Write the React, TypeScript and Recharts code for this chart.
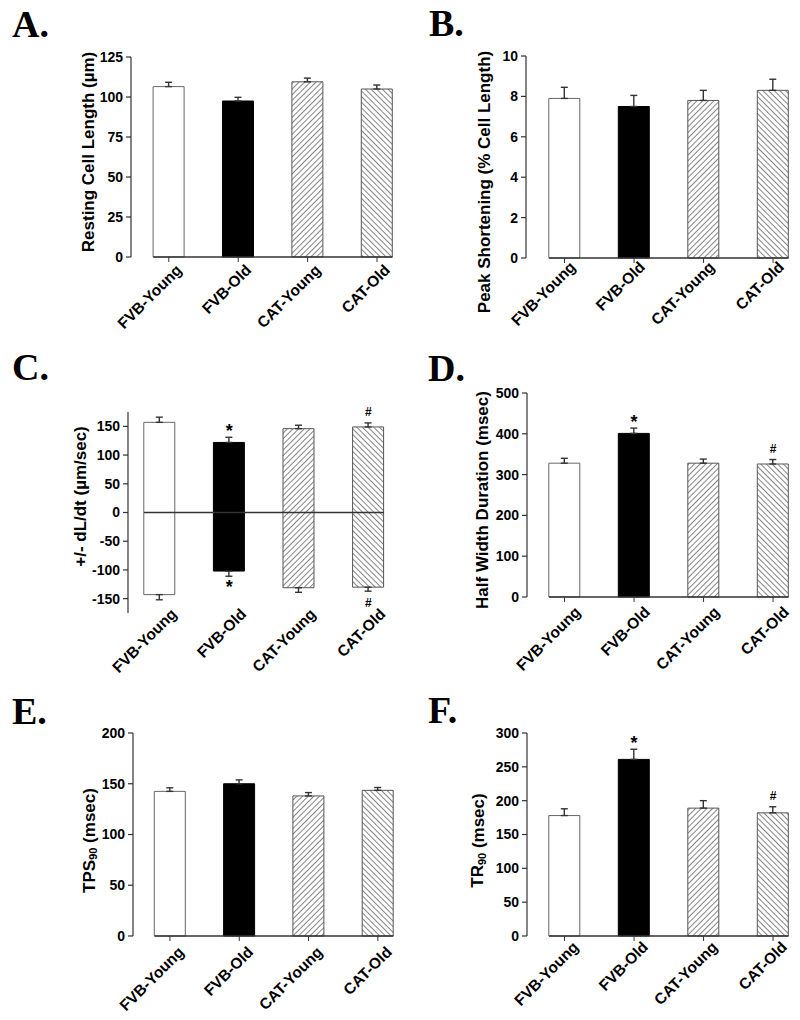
import React from "react";
import {
  BarChart,
  Bar,
  XAxis,
  YAxis,
  ErrorBar,
  Cell,
  ReferenceLine,
  ReferenceDot,
} from "recharts";

const groups = ["FVB-Young", "FVB-Old", "CAT-Young", "CAT-Old"];

// A. resting cell length (µm)
const restingLength = [106.5, 97.5, 109.5, 105];
const restingLengthSem = [2.7, 2.3, 2.3, 2.5];
// B. peak shortening (% cell length)
const peakShortening = [7.9, 7.5, 7.8, 8.3];
const peakShorteningSem = [0.55, 0.55, 0.5, 0.55];
// C. +/- dL/dt (µm/sec)
const maxVelocity = [157, 122, 146, 149];
const maxVelocitySem = [9, 9, 6, 7];
const minVelocity = [-143, -102, -131, -130];
const minVelocitySem = [9, 9, 8, 7];
// D. half width duration (msec)
const halfWidth = [328, 401, 328, 326];
const halfWidthSem = [12, 13, 10, 11];
// E. TPS90 (msec)
const tps90 = [142.5, 150, 138, 143.5];
const tps90Sem = [3.5, 3.8, 3.3, 2.8];
// F. TR90 (msec)
const tr90 = [178, 261, 189, 182];
const tr90Sem = [10, 15, 11, 9];

// * p < 0.05 vs FVB-Young, # p < 0.05 vs FVB-Old
const marksC = ["", "*", "", "#"];
const marksD = ["", "*", "", "#"];
const marksF = ["", "*", "", "#"];
const noMarks = ["", "", "", ""];

const ticksA = [0, 25, 50, 75, 100, 125];
const ticksB = [0, 2, 4, 6, 8, 10];
const ticksC = [-150, -100, -50, 0, 50, 100, 150];
const ticksD = [0, 100, 200, 300, 400, 500];
const ticksE = [0, 50, 100, 150, 200];
const ticksF = [0, 50, 100, 150, 200, 250, 300];

const FONT = '"Liberation Sans", Arial, sans-serif';
const BAR = 31;
const YW = 100;
const MT = 30;
const XH = 90;
const AXIS = "#333";

function makeRows(means: number[], sems: number[], marks: string[], negs?: number[], negSems?: number[]) {
  return groups.map((g, i) => ({
    group: g,
    mean: means[i],
    err: [0, sems[i]],
    mark: marks[i],
    neg: negs ? negs[i] : undefined,
    negErr: negSems ? [negSems[i], 0] : undefined,
  }));
}

function GroupTick({ x, y, payload, dx, dy }: any) {
  const tx = x + dx;
  const ty = y + dy;
  return (
    <text
      x={tx}
      y={ty}
      transform={`rotate(-45 ${tx} ${ty})`}
      textAnchor="end"
      fontFamily={FONT}
      fontWeight="bold"
      fontSize={15.5}
      fill="#000"
    >
      {payload.value}
    </text>
  );
}

const yTitle = (title: React.ReactNode, gap: number, shift: number) => (props: any) => {
  const vb = props.viewBox;
  const x = vb.x + vb.width - gap;
  const y = vb.y + vb.height / 2 + shift;
  return (
    <text
      x={x}
      y={y}
      transform={`rotate(-90 ${x} ${y})`}
      textAnchor="middle"
      dominantBaseline="central"
      fontFamily={FONT}
      fontWeight="bold"
      fontSize={17}
      fill="#000"
    >
      {title}
    </text>
  );
};

const baseLine = (p: any) => (
  <line x1={p.x1 - BAR / 2} y1={p.y1} x2={p.x2 + BAR / 2} y2={p.y2} stroke={AXIS} strokeWidth={1.4} />
);

type Lay = {
  axisX: number;
  top: number;
  bottom: number;
  pad: number;
  band: number;
  gap: number;
  shift: number;
  dx: number;
  dy: number;
};

function markLabel(value: string, pos: "top" | "bottom") {
  const star = value === "*";
  return {
    value,
    position: pos,
    offset: star ? (pos === "top" ? 0 : 4) : 7,
    fontSize: star ? 18 : 12,
    fontWeight: "bold",
    fontFamily: FONT,
    fill: "#000",
  };
}

function Panel({ uid, rows, domain, ticks, title, lay, twoSided }: any) {
  const l: Lay = lay;
  const left = l.axisX - YW;
  const top = l.top - MT;
  const width = YW + l.pad + 4 * l.band;
  const height = l.bottom - top + XH;
  const fills = ["#fff", "#000", `url(#up-${uid})`, `url(#down-${uid})`];
  const strokes = ["#666", "#000", "#555", "#555"];
  return (
    <div style={{ position: "absolute", left, top }}>
      <BarChart width={width} height={height} data={rows} margin={{ top: MT, right: 0, bottom: 0, left: 0 }}>
        <defs>
          <pattern id={`up-${uid}`} width={4} height={4} patternUnits="userSpaceOnUse" patternTransform="rotate(45)">
            <rect width={4} height={4} fill="#fff" />
            <line x1={0} y1={0} x2={0} y2={4} stroke="#444" strokeWidth={1.3} />
          </pattern>
          <pattern id={`down-${uid}`} width={4} height={4} patternUnits="userSpaceOnUse" patternTransform="rotate(-45)">
            <rect width={4} height={4} fill="#fff" />
            <line x1={0} y1={0} x2={0} y2={4} stroke="#444" strokeWidth={1.3} />
          </pattern>
        </defs>
        <XAxis
          xAxisId="g"
          dataKey="group"
          interval={0}
          padding={{ left: l.pad, right: 0 }}
          axisLine={false}
          tickLine={twoSided ? false : { stroke: AXIS }}
          tickSize={5}
          tickMargin={0}
          height={XH}
          tick={<GroupTick dx={l.dx} dy={l.dy} />}
        />
        {twoSided && <XAxis xAxisId="n" dataKey="group" hide padding={{ left: l.pad, right: 0 }} />}
        <YAxis
          type="number"
          domain={domain}
          ticks={ticks}
          interval={0}
          width={YW}
          tickSize={5}
          tickMargin={3}
          axisLine={{ stroke: AXIS, strokeWidth: 1.2 }}
          tickLine={{ stroke: AXIS, strokeWidth: 1.2 }}
          tick={{ fontSize: 14, fontWeight: "bold", fill: "#000", fontFamily: FONT }}
          label={yTitle(title, l.gap, l.shift)}
        />
        <Bar xAxisId="g" dataKey="mean" barSize={BAR} isAnimationActive={false}>
          {rows.map((r: any, i: number) => (
            <Cell key={r.group} fill={fills[i]} stroke={strokes[i]} strokeWidth={1} />
          ))}
          <ErrorBar dataKey="err" direction="y" width={3.5} stroke={AXIS} strokeWidth={1.4} />
        </Bar>
        {twoSided && (
          <Bar xAxisId="n" dataKey="neg" barSize={BAR} isAnimationActive={false}>
            {rows.map((r: any, i: number) => (
              <Cell key={r.group} fill={fills[i]} stroke={strokes[i]} strokeWidth={1} />
            ))}
            <ErrorBar dataKey="negErr" direction="y" width={3.5} stroke={AXIS} strokeWidth={1.4} />
          </Bar>
        )}
        <ReferenceLine
          xAxisId="g"
          segment={[
            { x: groups[0], y: 0 },
            { x: groups[groups.length - 1], y: 0 },
          ]}
          shape={baseLine}
        />
        {rows
          .filter((r: any) => r.mark)
          .map((r: any) => (
            <ReferenceDot
              key={`t-${r.group}`}
              xAxisId="g"
              x={r.group}
              y={r.mean + r.err[1]}
              r={0}
              fill="none"
              stroke="none"
              label={markLabel(r.mark, "top")}
            />
          ))}
        {twoSided &&
          rows
            .filter((r: any) => r.mark)
            .map((r: any) => (
              <ReferenceDot
                key={`b-${r.group}`}
                xAxisId="g"
                x={r.group}
                y={r.neg - r.negErr[0]}
                r={0}
                fill="none"
                stroke="none"
                label={markLabel(r.mark, "bottom")}
              />
            ))}
      </BarChart>
    </div>
  );
}

const letters = [
  { t: "A.", x: 12, y: 37 },
  { t: "B.", x: 429, y: 36 },
  { t: "C.", x: 12, y: 380 },
  { t: "D.", x: 428, y: 381 },
  { t: "E.", x: 12, y: 724 },
  { t: "F.", x: 428, y: 723 },
];

export default function App() {
  return (
    <div
      style={{
        position: "absolute",
        left: 0,
        top: 0,
        width: 800,
        height: 1020,
        overflow: "hidden",
        background: "#fff",
      }}
    >
      <svg width={800} height={1020} style={{ position: "absolute", left: 0, top: 0 }}>
        {letters.map((d) => (
          <text key={d.t} x={d.x} y={d.y} fontFamily='"Liberation Serif", "Times New Roman", serif' fontWeight="bold" fontSize={38} fill="#000">
            {d.t}
          </text>
        ))}
      </svg>
      <Panel
        uid="a"
        rows={makeRows(restingLength, restingLengthSem, noMarks)}
        domain={[0, 125]}
        ticks={ticksA}
        title="Resting Cell Length (µm)"
        lay={{ axisX: 131, top: 57, bottom: 257, pad: 3.1, band: 69.4, gap: 42, shift: -5, dx: 14, dy: 9 }}
      />
      <Panel
        uid="b"
        rows={makeRows(peakShortening, peakShorteningSem, noMarks)}
        domain={[0, 10]}
        ticks={ticksB}
        title="Peak Shortening (% Cell Length)"
        lay={{ axisX: 526, top: 56, bottom: 258, pad: 3.8, band: 69.5, gap: 41, shift: 25, dx: 12, dy: 5 }}
      />
      <Panel
        uid="c"
        twoSided
        rows={makeRows(maxVelocity, maxVelocitySem, marksC, minVelocity, minVelocitySem)}
        domain={[-175, 175]}
        ticks={ticksC}
        title="+/- dL/dt (µm/sec)"
        lay={{ axisX: 128, top: 412, bottom: 613, pad: -3.2, band: 69.6, gap: 47, shift: -16, dx: 18, dy: -3 }}
      />
      <Panel
        uid="d"
        rows={makeRows(halfWidth, halfWidthSem, marksD)}
        domain={[0, 500]}
        ticks={ticksD}
        title="Half Width Duration (msec)"
        lay={{ axisX: 527, top: 393, bottom: 597, pad: 2.8, band: 69.5, gap: 44, shift: 5, dx: 17, dy: 11 }}
      />
      <Panel
        uid="e"
        rows={makeRows(tps90, tps90Sem, noMarks)}
        domain={[0, 200]}
        ticks={ticksE}
        title={
          <>
            TPS
            <tspan fontSize={11} dy={4}>90</tspan>
            <tspan dy={-4}> (msec)</tspan>
          </>
        }
        lay={{ axisX: 133, top: 733, bottom: 936, pad: 2.3, band: 69.3, gap: 44, shift: 6, dx: 15, dy: 12 }}
      />
      <Panel
        uid="f"
        rows={makeRows(tr90, tr90Sem, marksF)}
        domain={[0, 300]}
        ticks={ticksF}
        title={
          <>
            TR
            <tspan fontSize={11} dy={4}>90</tspan>
            <tspan dy={-4}> (msec)</tspan>
          </>
        }
        lay={{ axisX: 527, top: 733, bottom: 936, pad: 2.8, band: 69.5, gap: 49, shift: 6, dx: 15, dy: 7 }}
      />
    </div>
  );
}
